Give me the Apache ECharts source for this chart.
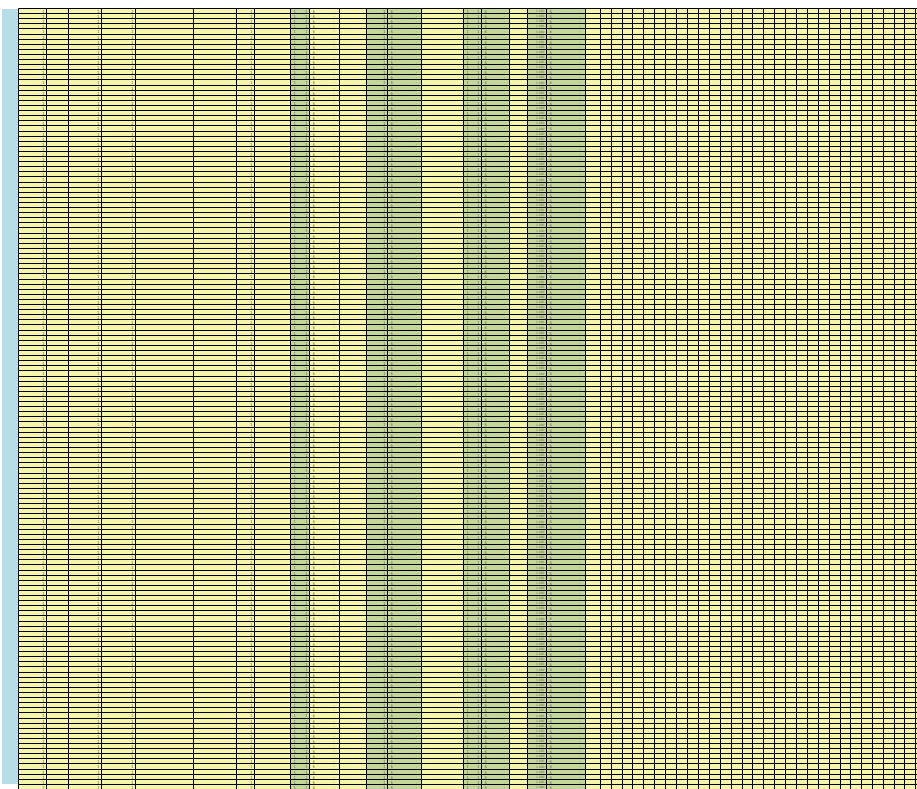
<!DOCTYPE html>
<html>
<head>
<meta charset="utf-8">
<script src="https://cdn.jsdelivr.net/npm/echarts@6/dist/echarts.min.js"></script>
<style>
html, body { margin: 0; padding: 0; background: #fff; }
#main { width: 917px; height: 789px; }
</style>
</head>
<body>
<div id="main"></div>
<script>
// rows shown in the sheet (the last one runs off the page)
var rowCount = 153;

// what each column shows on every row: left part and right part of the cell
var leftText = { 8: '1', 9: '$', 12: '$', 14: '1', 15: '$', 18: '$' };
var rightText = { 0: '1', 2: '1', 3: '1', 6: '1', 8: '1', 9: '-  ', 11: '1', 12: '-  ', 14: '1', 15: '-  ', 17: '1,000', 18: '-  ' };

// sheet layout: column widths (px) and the green shaded columns
var colWidths = [28, 22, 33, 34, 58, 43, 18, 36, 19, 30, 27, 21, 34, 42, 18, 28, 18, 19, 39, 15,
  11, 11, 10, 11, 11, 11, 11, 11, 11, 11, 11, 11, 11, 10, 11, 11, 11, 11, 11, 11,
  11, 11, 10, 11, 11, 11, 11, 10, 11, 11];
var shadedCols = [8, 11, 12, 14, 15, 17, 18];

var edges = [0];
colWidths.forEach(function (w, i) { edges.push(edges[i] + w); });

var cells = [];
for (var r = 0; r < rowCount; r++) {
  for (var c = 0; c < colWidths.length; c++) {
    cells.push([c, r]);
  }
}

var myChart = echarts.init(document.getElementById('main'), null, { renderer: 'canvas' });

function cellText(text, x, y, align) {
  return {
    type: 'text',
    style: {
      text: text, x: x, y: y,
      font: (text.length > 3 ? '3px' : '4px') + ' "DejaVu Sans"', fill: '#6f6f5f',
      align: align, verticalAlign: 'middle',
      textAlign: align, textVerticalAlign: 'middle'
    }
  };
}

var option = {
  animation: false,
  grid: { left: 18, top: 8, right: 0, bottom: 0 },
  xAxis: { type: 'value', min: 0, max: 899, show: false },
  yAxis: { type: 'value', min: 0, max: rowCount, inverse: true, show: false },
  graphic: [
    {
      type: 'rect',
      shape: { x: 2, y: 9, width: 16, height: 775 },
      style: { fill: '#b7dde8' },
      z: 0
    }
  ],
  series: [
    {
      type: 'custom',
      progressive: 0,
      clip: true,
      data: cells,
      renderItem: function (params, api) {
        var c = api.value(0);
        var r = api.value(1);
        var p0 = api.coord([edges[c], r]);
        var p1 = api.coord([edges[c + 1], r + 1]);
        var x0 = Math.round(p0[0]) + 0.5;
        var x1 = Math.round(p1[0]) + 0.5;
        var y0 = Math.round(p0[1]) + 0.5;
        var y1 = Math.round(p1[1]) + 0.5;
        var green = shadedCols.indexOf(c) >= 0;
        var children = [{
          type: 'rect',
          shape: { x: x0, y: y0, width: x1 - x0, height: y1 - y0 },
          style: { fill: green ? '#c4d79b' : '#f5f5ab', stroke: '#000', lineWidth: 1 }
        }];
        var cy = (y0 + y1) / 2 + 0.5;
        if (leftText[c]) {
          children.push(cellText(leftText[c], x0 + 3, cy, 'left'));
        }
        if (rightText[c]) {
          children.push(cellText(rightText[c], x1 - 2, cy, 'right'));
        }
        return { type: 'group', children: children };
      }
    }
  ]
};

myChart.setOption(option);
</script>
</body>
</html>
